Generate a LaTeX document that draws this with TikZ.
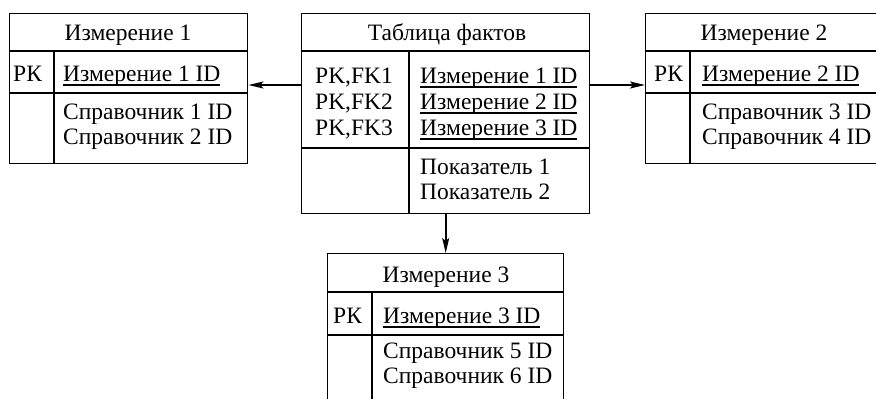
\documentclass[tikz,border=0pt]{standalone}
\usepackage{fontspec}
\setmainfont{LiberationSerif}[Extension=.ttf, UprightFont=*-Regular, BoldFont=*-Bold, ItalicFont=*-Italic]
\usetikzlibrary{arrows.meta}
\newcommand\keyul[1]{\setbox0\hbox{#1}\rlap{\rule[-5pt]{\wd0}{1.6pt}}\box0}
\tikzset{
  box/.style={draw, line width=1.4pt, inner sep=0pt, anchor=north west},
  sep/.style={line width=1.4pt},
  txt/.style={anchor=base west, inner sep=0pt, font=\rmfamily\fontsize{23.5}{26}\selectfont},
  ttl/.style={anchor=base, inner sep=0pt, font=\rmfamily\fontsize{23.5}{26}\selectfont},
  arr/.style={line width=1.6pt, -{Stealth[length=15pt,width=7pt,inset=3pt]}}
}
\begin{document}
\begin{tikzpicture}[x=1pt,y=-1pt]
\clip (0,0) rectangle (876,399);
\useasboundingbox (0,0) rectangle (876,399);
% ---------- Dimension 1 ----------
\node[box, minimum width=238pt, minimum height=150pt] (d1) at (9,13) {};
\draw[sep] (9,51) -- (247,51);
\draw[sep] (9,93) -- (247,93);
\draw[sep] (54,51) -- (54,163);
\node[ttl] (d1t) at (128,40) {Измерение 1};
\node[txt] (d1pk) at (13,81) {РК};
\node[txt] (d1id) at (63,81) {\keyul{Измерение 1 ID}};
\node[txt] (d1r1) at (63,119) {Справочник 1 ID};
\node[txt] (d1r2) at (63,144) {Справочник 2 ID};
% ---------- Fact table ----------
\node[box, minimum width=288pt, minimum height=200pt] (f) at (301,13) {};
\draw[sep] (301,51) -- (589,51);
\draw[sep] (301,148) -- (589,148);
\draw[sep] (409,51) -- (409,213);
\node[ttl] (ft) at (447,40) {Таблица фактов};
\node[txt] (fk1) at (315,83) {PK,FK1};
\node[txt] (fk2) at (315,109) {PK,FK2};
\node[txt] (fk3) at (315,135) {PK,FK3};
\node[txt] (fid1) at (420,83) {\keyul{Измерение 1 ID}};
\node[txt] (fid2) at (420,109) {\keyul{Измерение 2 ID}};
\node[txt] (fid3) at (420,135) {\keyul{Измерение 3 ID}};
\node[txt] (fm1) at (420,174) {Показатель 1};
\node[txt] (fm2) at (420,199) {Показатель 2};
% ---------- Dimension 2 ----------
\node[box, minimum width=240pt, minimum height=150pt] (d2) at (645,13) {};
\draw[sep] (645,51) -- (885,51);
\draw[sep] (645,93) -- (885,93);
\draw[sep] (690,51) -- (690,163);
\node[ttl] (d2t) at (764,40) {Измерение 2};
\node[txt] (d2pk) at (654,81) {РК};
\node[txt] (d2id) at (702,81) {\keyul{Измерение 2 ID}};
\node[txt] (d2r1) at (702,119) {Справочник 3 ID};
\node[txt] (d2r2) at (702,144) {Справочник 4 ID};
% ---------- Dimension 3 ----------
\node[box, minimum width=236pt, minimum height=160pt] (d3) at (327,253) {};
\draw[sep] (327,292) -- (563,292);
\draw[sep] (327,335) -- (563,335);
\draw[sep] (372,292) -- (372,413);
\node[ttl] (d3t) at (446,282) {Измерение 3};
\node[txt] (d3pk) at (333,323) {РК};
\node[txt] (d3id) at (383,323) {\keyul{Измерение 3 ID}};
\node[txt] (d3r1) at (383,358) {Справочник 5 ID};
\node[txt] (d3r2) at (383,383) {Справочник 6 ID};
% ---------- Connectors ----------
\draw[arr] (f.west |- 0,85) -- (d1.east |- 0,85);
\draw[arr] (f.east |- 0,85) -- (d2.west |- 0,85);
\draw[arr] (f.south -| d3.north) -- (d3.north);
\end{tikzpicture}
\end{document}
